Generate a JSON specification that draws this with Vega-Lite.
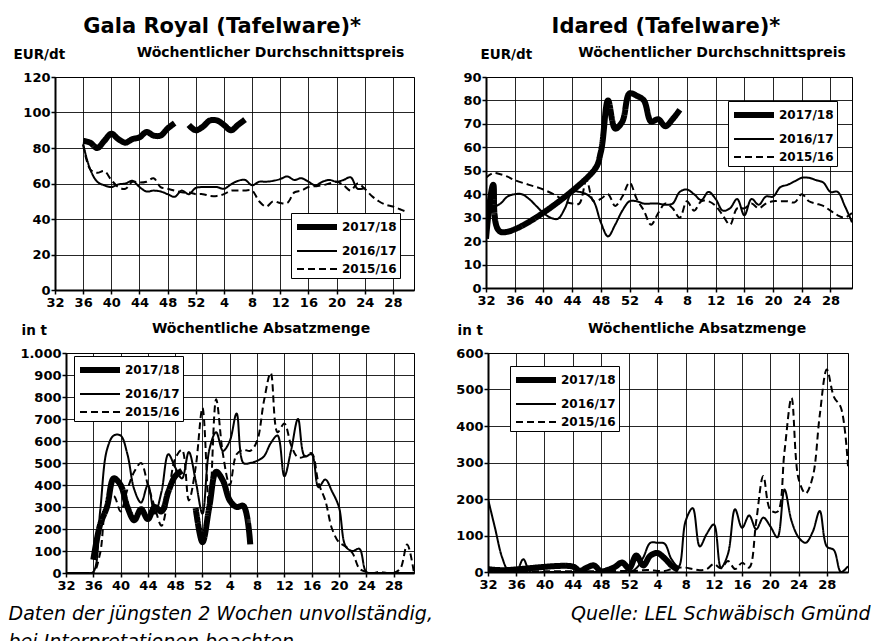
{
  "$schema": "https://vega.github.io/schema/vega-lite/v6.json",
  "padding": {"left": 7, "top": 15, "right": 0, "bottom": 0},
  "config": {
    "font": "DejaVu Sans",
    "view": {"stroke": "#000", "strokeWidth": 1},
    "line": {"color": "#000"},
    "axis": {
      "labelFont": "DejaVu Sans", "labelFontSize": 13, "labelFontWeight": "bold", "labelColor": "#000",
      "domainColor": "#000", "domainWidth": 2, "tickColor": "#000", "tickWidth": 1.5, "tickSize": 4,
      "gridColor": "#000", "gridOpacity": 0.85, "gridWidth": 1,
      "titleFont": "DejaVu Sans", "titleFontSize": 13.5, "titleFontWeight": "bold", "titleColor": "#000",
      "titleAngle": 0, "titleAlign": "left", "titleBaseline": "alphabetic"
    },
    "axisX": {"labelPadding": 2, "labelFlush": false},
    "axisY": {"labelPadding": 1},
    "title": {"font": "DejaVu Sans", "fontWeight": "bold", "color": "#000", "fontSize": 14, "baseline": "alphabetic", "anchor": "middle"},
    "legend": {
      "strokeColor": "#000", "fillColor": "#fff", "padding": 3,
      "symbolType": "M-1,0H4", "symbolSize": 256, "symbolStrokeColor": "#000",
      "labelFont": "DejaVu Sans", "labelFontSize": 12, "labelFontWeight": "bold", "labelColor": "#000",
      "labelOffset": 26, "rowPadding": 3
    }
  },
  "datasets": {
    "gp": [
      {"s":"2015/16","t":4,"v":82},{"s":"2015/16","t":5,"v":68},{"s":"2015/16","t":6,"v":66},{"s":"2015/16","t":7,"v":67},{"s":"2015/16","t":8,"v":62},{"s":"2015/16","t":9,"v":58},{"s":"2015/16","t":10,"v":57},{"s":"2015/16","t":11,"v":61},{"s":"2015/16","t":12,"v":60.5},{"s":"2015/16","t":13,"v":61},{"s":"2015/16","t":14,"v":63},{"s":"2015/16","t":15,"v":58},{"s":"2015/16","t":16,"v":57},{"s":"2015/16","t":17,"v":56},{"s":"2015/16","t":18,"v":55},{"s":"2015/16","t":19,"v":55},{"s":"2015/16","t":20,"v":54},{"s":"2015/16","t":21,"v":54},{"s":"2015/16","t":22,"v":53},{"s":"2015/16","t":23,"v":53},{"s":"2015/16","t":24,"v":54},{"s":"2015/16","t":25,"v":56},{"s":"2015/16","t":26,"v":56},{"s":"2015/16","t":27,"v":56},{"s":"2015/16","t":28,"v":56},{"s":"2015/16","t":29,"v":50},{"s":"2015/16","t":30,"v":47},{"s":"2015/16","t":31,"v":50},{"s":"2015/16","t":32,"v":49},{"s":"2015/16","t":33,"v":49},{"s":"2015/16","t":34,"v":55},{"s":"2015/16","t":35,"v":56},{"s":"2015/16","t":36,"v":58},{"s":"2015/16","t":37,"v":58.5},{"s":"2015/16","t":38,"v":59},{"s":"2015/16","t":39,"v":60},{"s":"2015/16","t":40,"v":61},{"s":"2015/16","t":41,"v":59},{"s":"2015/16","t":42,"v":56},{"s":"2015/16","t":43,"v":60},{"s":"2015/16","t":44,"v":57},{"s":"2015/16","t":45,"v":53},{"s":"2015/16","t":46,"v":50},{"s":"2015/16","t":47,"v":48},{"s":"2015/16","t":48,"v":47},{"s":"2015/16","t":49,"v":45.5},{"s":"2015/16","t":50,"v":44},
      {"s":"2016/17","t":4,"v":82},{"s":"2016/17","t":5,"v":68},{"s":"2016/17","t":6,"v":61},{"s":"2016/17","t":7,"v":59},{"s":"2016/17","t":8,"v":58},{"s":"2016/17","t":9,"v":59.5},{"s":"2016/17","t":10,"v":60},{"s":"2016/17","t":11,"v":61.5},{"s":"2016/17","t":12,"v":58},{"s":"2016/17","t":13,"v":55.5},{"s":"2016/17","t":14,"v":56},{"s":"2016/17","t":15,"v":55.5},{"s":"2016/17","t":16,"v":54},{"s":"2016/17","t":17,"v":52.5},{"s":"2016/17","t":18,"v":56},{"s":"2016/17","t":19,"v":54},{"s":"2016/17","t":20,"v":57.5},{"s":"2016/17","t":21,"v":58},{"s":"2016/17","t":22,"v":58},{"s":"2016/17","t":23,"v":58},{"s":"2016/17","t":24,"v":57},{"s":"2016/17","t":25,"v":59.5},{"s":"2016/17","t":26,"v":61.5},{"s":"2016/17","t":27,"v":62},{"s":"2016/17","t":28,"v":59},{"s":"2016/17","t":29,"v":61},{"s":"2016/17","t":30,"v":61},{"s":"2016/17","t":31,"v":61.5},{"s":"2016/17","t":32,"v":62.5},{"s":"2016/17","t":33,"v":64},{"s":"2016/17","t":34,"v":62},{"s":"2016/17","t":35,"v":63},{"s":"2016/17","t":36,"v":61},{"s":"2016/17","t":37,"v":59},{"s":"2016/17","t":38,"v":61},{"s":"2016/17","t":39,"v":62},{"s":"2016/17","t":40,"v":61},{"s":"2016/17","t":41,"v":62},{"s":"2016/17","t":42,"v":63.5},{"s":"2016/17","t":43,"v":57},{"s":"2016/17","t":44,"v":57.5},
      {"s":"2017/18","t":4,"v":84},{"s":"2017/18","t":5,"v":83},{"s":"2017/18","t":6,"v":80},{"s":"2017/18","t":7,"v":84},{"s":"2017/18","t":8,"v":88},{"s":"2017/18","t":9,"v":85},{"s":"2017/18","t":10,"v":83},{"s":"2017/18","t":11,"v":85},{"s":"2017/18","t":12,"v":86},{"s":"2017/18","t":13,"v":89},{"s":"2017/18","t":14,"v":87},{"s":"2017/18","t":15,"v":87},{"s":"2017/18","t":16,"v":91},{"s":"2017/18","t":17,"v":94},{"s":"2017/18","t":18,"v":null},{"s":"2017/18","t":19,"v":93},{"s":"2017/18","t":20,"v":90},{"s":"2017/18","t":21,"v":92},{"s":"2017/18","t":22,"v":95.5},{"s":"2017/18","t":23,"v":95.5},{"s":"2017/18","t":24,"v":93},{"s":"2017/18","t":25,"v":90},{"s":"2017/18","t":26,"v":93},{"s":"2017/18","t":27,"v":96}
    ],
    "ip": [
      {"s":"2015/16","t":0,"v":47},{"s":"2015/16","t":1,"v":49},{"s":"2015/16","t":2,"v":48.5},{"s":"2015/16","t":3,"v":47.5},{"s":"2015/16","t":4,"v":46},{"s":"2015/16","t":6,"v":44},{"s":"2015/16","t":8,"v":42},{"s":"2015/16","t":10,"v":39},{"s":"2015/16","t":11,"v":37},{"s":"2015/16","t":12,"v":36},{"s":"2015/16","t":13,"v":36},{"s":"2015/16","t":14,"v":46},{"s":"2015/16","t":15,"v":37},{"s":"2015/16","t":16,"v":38},{"s":"2015/16","t":17,"v":40},{"s":"2015/16","t":18,"v":35},{"s":"2015/16","t":19,"v":39},{"s":"2015/16","t":20,"v":45},{"s":"2015/16","t":21,"v":38},{"s":"2015/16","t":22,"v":33},{"s":"2015/16","t":23,"v":27},{"s":"2015/16","t":24,"v":32},{"s":"2015/16","t":25,"v":36},{"s":"2015/16","t":26,"v":34},{"s":"2015/16","t":27,"v":30},{"s":"2015/16","t":28,"v":37},{"s":"2015/16","t":29,"v":33},{"s":"2015/16","t":30,"v":37},{"s":"2015/16","t":31,"v":37},{"s":"2015/16","t":32,"v":35},{"s":"2015/16","t":33,"v":31},{"s":"2015/16","t":34,"v":27},{"s":"2015/16","t":35,"v":34},{"s":"2015/16","t":36,"v":34},{"s":"2015/16","t":37,"v":36},{"s":"2015/16","t":38,"v":34},{"s":"2015/16","t":39,"v":36},{"s":"2015/16","t":40,"v":37},{"s":"2015/16","t":41,"v":37},{"s":"2015/16","t":42,"v":37},{"s":"2015/16","t":43,"v":36.5},{"s":"2015/16","t":44,"v":40},{"s":"2015/16","t":45,"v":37},{"s":"2015/16","t":46,"v":36},{"s":"2015/16","t":47,"v":35},{"s":"2015/16","t":48,"v":33},{"s":"2015/16","t":49,"v":31},{"s":"2015/16","t":50,"v":30},{"s":"2015/16","t":51,"v":32},
      {"s":"2016/17","t":0,"v":34},{"s":"2016/17","t":1,"v":34.5},{"s":"2016/17","t":2,"v":36},{"s":"2016/17","t":3,"v":39},{"s":"2016/17","t":4,"v":40},{"s":"2016/17","t":5,"v":40},{"s":"2016/17","t":6,"v":38},{"s":"2016/17","t":7,"v":35},{"s":"2016/17","t":8,"v":32},{"s":"2016/17","t":9,"v":30},{"s":"2016/17","t":10,"v":29.5},{"s":"2016/17","t":11,"v":34},{"s":"2016/17","t":12,"v":41},{"s":"2016/17","t":13,"v":41},{"s":"2016/17","t":14,"v":40},{"s":"2016/17","t":15,"v":37},{"s":"2016/17","t":16,"v":28},{"s":"2016/17","t":17,"v":22},{"s":"2016/17","t":18,"v":27},{"s":"2016/17","t":19,"v":33},{"s":"2016/17","t":20,"v":37},{"s":"2016/17","t":21,"v":37},{"s":"2016/17","t":22,"v":36},{"s":"2016/17","t":23,"v":36},{"s":"2016/17","t":24,"v":36},{"s":"2016/17","t":25,"v":35.5},{"s":"2016/17","t":26,"v":36},{"s":"2016/17","t":27,"v":41},{"s":"2016/17","t":28,"v":42},{"s":"2016/17","t":29,"v":40},{"s":"2016/17","t":30,"v":37.5},{"s":"2016/17","t":31,"v":41},{"s":"2016/17","t":32,"v":38},{"s":"2016/17","t":33,"v":33},{"s":"2016/17","t":34,"v":34},{"s":"2016/17","t":35,"v":38},{"s":"2016/17","t":36,"v":31},{"s":"2016/17","t":37,"v":38},{"s":"2016/17","t":38,"v":35.5},{"s":"2016/17","t":39,"v":39},{"s":"2016/17","t":40,"v":39},{"s":"2016/17","t":41,"v":43},{"s":"2016/17","t":42,"v":44},{"s":"2016/17","t":43,"v":45.5},{"s":"2016/17","t":44,"v":47},{"s":"2016/17","t":45,"v":47},{"s":"2016/17","t":46,"v":46},{"s":"2016/17","t":47,"v":45},{"s":"2016/17","t":48,"v":41},{"s":"2016/17","t":49,"v":41},{"s":"2016/17","t":50,"v":35},{"s":"2016/17","t":51,"v":28},
      {"s":"2017/18","t":0,"v":21},{"s":"2017/18","t":1,"v":44},{"s":"2017/18","t":2,"v":24},{"s":"2017/18","t":15,"v":50},{"s":"2017/18","t":16,"v":58},{"s":"2017/18","t":17,"v":80},{"s":"2017/18","t":18,"v":68},{"s":"2017/18","t":19,"v":71},{"s":"2017/18","t":20,"v":83},{"s":"2017/18","t":21,"v":82},{"s":"2017/18","t":22,"v":80},{"s":"2017/18","t":23,"v":71},{"s":"2017/18","t":24,"v":72},{"s":"2017/18","t":25,"v":69},{"s":"2017/18","t":26,"v":72},{"s":"2017/18","t":27,"v":76}
    ],
    "gv": [
      {"s":"2015/16","t":0,"v":0},{"s":"2015/16","t":1,"v":0},{"s":"2015/16","t":2,"v":0},{"s":"2015/16","t":3,"v":0},{"s":"2015/16","t":4,"v":0},{"s":"2015/16","t":5,"v":90},{"s":"2015/16","t":6,"v":320},{"s":"2015/16","t":7,"v":350},{"s":"2015/16","t":8,"v":280},{"s":"2015/16","t":9,"v":380},{"s":"2015/16","t":10,"v":460},{"s":"2015/16","t":11,"v":500},{"s":"2015/16","t":12,"v":400},{"s":"2015/16","t":13,"v":300},{"s":"2015/16","t":14,"v":215},{"s":"2015/16","t":15,"v":350},{"s":"2015/16","t":16,"v":520},{"s":"2015/16","t":17,"v":560},{"s":"2015/16","t":18,"v":330},{"s":"2015/16","t":19,"v":480},{"s":"2015/16","t":20,"v":750},{"s":"2015/16","t":21,"v":290},{"s":"2015/16","t":22,"v":790},{"s":"2015/16","t":23,"v":540},{"s":"2015/16","t":24,"v":400},{"s":"2015/16","t":25,"v":540},{"s":"2015/16","t":26,"v":560},{"s":"2015/16","t":27,"v":555},{"s":"2015/16","t":28,"v":600},{"s":"2015/16","t":29,"v":780},{"s":"2015/16","t":30,"v":910},{"s":"2015/16","t":31,"v":640},{"s":"2015/16","t":32,"v":680},{"s":"2015/16","t":33,"v":580},{"s":"2015/16","t":34,"v":525},{"s":"2015/16","t":35,"v":530},{"s":"2015/16","t":36,"v":545},{"s":"2015/16","t":37,"v":410},{"s":"2015/16","t":38,"v":330},{"s":"2015/16","t":39,"v":200},{"s":"2015/16","t":40,"v":140},{"s":"2015/16","t":41,"v":120},{"s":"2015/16","t":42,"v":90},{"s":"2015/16","t":43,"v":20},{"s":"2015/16","t":44,"v":5},{"s":"2015/16","t":45,"v":0},{"s":"2015/16","t":46,"v":5},{"s":"2015/16","t":47,"v":0},{"s":"2015/16","t":48,"v":0},{"s":"2015/16","t":49,"v":20},{"s":"2015/16","t":50,"v":130},{"s":"2015/16","t":51,"v":0},
      {"s":"2016/17","t":0,"v":0},{"s":"2016/17","t":1,"v":0},{"s":"2016/17","t":2,"v":0},{"s":"2016/17","t":3,"v":0},{"s":"2016/17","t":4,"v":5},{"s":"2016/17","t":5,"v":280},{"s":"2016/17","t":6,"v":560},{"s":"2016/17","t":7,"v":625},{"s":"2016/17","t":8,"v":625},{"s":"2016/17","t":9,"v":540},{"s":"2016/17","t":10,"v":380},{"s":"2016/17","t":11,"v":320},{"s":"2016/17","t":12,"v":400},{"s":"2016/17","t":13,"v":270},{"s":"2016/17","t":14,"v":370},{"s":"2016/17","t":15,"v":540},{"s":"2016/17","t":16,"v":480},{"s":"2016/17","t":17,"v":430},{"s":"2016/17","t":18,"v":550},{"s":"2016/17","t":19,"v":420},{"s":"2016/17","t":20,"v":270},{"s":"2016/17","t":21,"v":560},{"s":"2016/17","t":22,"v":640},{"s":"2016/17","t":23,"v":555},{"s":"2016/17","t":24,"v":600},{"s":"2016/17","t":25,"v":725},{"s":"2016/17","t":26,"v":500},{"s":"2016/17","t":27,"v":500},{"s":"2016/17","t":28,"v":510},{"s":"2016/17","t":29,"v":530},{"s":"2016/17","t":30,"v":590},{"s":"2016/17","t":31,"v":625},{"s":"2016/17","t":32,"v":440},{"s":"2016/17","t":33,"v":560},{"s":"2016/17","t":34,"v":700},{"s":"2016/17","t":35,"v":530},{"s":"2016/17","t":36,"v":540},{"s":"2016/17","t":37,"v":390},{"s":"2016/17","t":38,"v":425},{"s":"2016/17","t":39,"v":370},{"s":"2016/17","t":40,"v":300},{"s":"2016/17","t":41,"v":120},{"s":"2016/17","t":42,"v":100},{"s":"2016/17","t":43,"v":110},{"s":"2016/17","t":44,"v":5},{"s":"2016/17","t":45,"v":0},{"s":"2016/17","t":46,"v":0},{"s":"2016/17","t":48,"v":0},{"s":"2016/17","t":51,"v":0},
      {"s":"2017/18","t":4,"v":60},{"s":"2017/18","t":5,"v":220},{"s":"2017/18","t":6,"v":300},{"s":"2017/18","t":7,"v":430},{"s":"2017/18","t":8,"v":400},{"s":"2017/18","t":9,"v":300},{"s":"2017/18","t":10,"v":240},{"s":"2017/18","t":11,"v":290},{"s":"2017/18","t":12,"v":245},{"s":"2017/18","t":13,"v":300},{"s":"2017/18","t":14,"v":280},{"s":"2017/18","t":15,"v":370},{"s":"2017/18","t":16,"v":440},{"s":"2017/18","t":17,"v":465},{"s":"2017/18","t":18,"v":null},{"s":"2017/18","t":19,"v":295},{"s":"2017/18","t":20,"v":140},{"s":"2017/18","t":21,"v":300},{"s":"2017/18","t":22,"v":460},{"s":"2017/18","t":23,"v":420},{"s":"2017/18","t":24,"v":330},{"s":"2017/18","t":25,"v":300},{"s":"2017/18","t":26,"v":305},{"s":"2017/18","t":27,"v":130}
    ],
    "iv": [
      {"s":"2015/16","t":0,"v":5},{"s":"2015/16","t":4,"v":3},{"s":"2015/16","t":8,"v":2},{"s":"2015/16","t":12,"v":2},{"s":"2015/16","t":16,"v":2},{"s":"2015/16","t":20,"v":3},{"s":"2015/16","t":21,"v":3},{"s":"2015/16","t":22,"v":5},{"s":"2015/16","t":23,"v":5},{"s":"2015/16","t":24,"v":3},{"s":"2015/16","t":25,"v":3},{"s":"2015/16","t":26,"v":8},{"s":"2015/16","t":27,"v":12},{"s":"2015/16","t":28,"v":12},{"s":"2015/16","t":29,"v":8},{"s":"2015/16","t":30,"v":5},{"s":"2015/16","t":31,"v":8},{"s":"2015/16","t":32,"v":22},{"s":"2015/16","t":33,"v":10},{"s":"2015/16","t":34,"v":30},{"s":"2015/16","t":35,"v":8},{"s":"2015/16","t":36,"v":25},{"s":"2015/16","t":37,"v":12},{"s":"2015/16","t":38,"v":140},{"s":"2015/16","t":39,"v":263},{"s":"2015/16","t":40,"v":170},{"s":"2015/16","t":41,"v":165},{"s":"2015/16","t":42,"v":330},{"s":"2015/16","t":43,"v":477},{"s":"2015/16","t":44,"v":255},{"s":"2015/16","t":45,"v":215},{"s":"2015/16","t":46,"v":260},{"s":"2015/16","t":47,"v":430},{"s":"2015/16","t":48,"v":555},{"s":"2015/16","t":49,"v":480},{"s":"2015/16","t":50,"v":450},{"s":"2015/16","t":51,"v":290},
      {"s":"2016/17","t":0,"v":200},{"s":"2016/17","t":1,"v":120},{"s":"2016/17","t":2,"v":40},{"s":"2016/17","t":3,"v":0},{"s":"2016/17","t":4,"v":0},{"s":"2016/17","t":5,"v":35},{"s":"2016/17","t":6,"v":0},{"s":"2016/17","t":8,"v":0},{"s":"2016/17","t":12,"v":0},{"s":"2016/17","t":16,"v":0},{"s":"2016/17","t":20,"v":0},{"s":"2016/17","t":21,"v":10},{"s":"2016/17","t":22,"v":40},{"s":"2016/17","t":23,"v":80},{"s":"2016/17","t":24,"v":80},{"s":"2016/17","t":25,"v":78},{"s":"2016/17","t":26,"v":35},{"s":"2016/17","t":27,"v":15},{"s":"2016/17","t":28,"v":140},{"s":"2016/17","t":29,"v":175},{"s":"2016/17","t":30,"v":70},{"s":"2016/17","t":31,"v":105},{"s":"2016/17","t":32,"v":130},{"s":"2016/17","t":33,"v":12},{"s":"2016/17","t":34,"v":50},{"s":"2016/17","t":35,"v":172},{"s":"2016/17","t":36,"v":121},{"s":"2016/17","t":37,"v":155},{"s":"2016/17","t":38,"v":117},{"s":"2016/17","t":39,"v":149},{"s":"2016/17","t":40,"v":125},{"s":"2016/17","t":41,"v":95},{"s":"2016/17","t":42,"v":226},{"s":"2016/17","t":43,"v":140},{"s":"2016/17","t":44,"v":95},{"s":"2016/17","t":45,"v":80},{"s":"2016/17","t":46,"v":110},{"s":"2016/17","t":47,"v":167},{"s":"2016/17","t":48,"v":70},{"s":"2016/17","t":49,"v":60},{"s":"2016/17","t":50,"v":0},{"s":"2016/17","t":51,"v":16},
      {"s":"2017/18","t":0,"v":8},{"s":"2017/18","t":2,"v":5},{"s":"2017/18","t":12,"v":15},{"s":"2017/18","t":13,"v":3},{"s":"2017/18","t":14,"v":12},{"s":"2017/18","t":15,"v":18},{"s":"2017/18","t":16,"v":2},{"s":"2017/18","t":17,"v":6},{"s":"2017/18","t":18,"v":14},{"s":"2017/18","t":19,"v":26},{"s":"2017/18","t":20,"v":10},{"s":"2017/18","t":21,"v":45},{"s":"2017/18","t":22,"v":18},{"s":"2017/18","t":23,"v":45},{"s":"2017/18","t":24,"v":52},{"s":"2017/18","t":25,"v":38},{"s":"2017/18","t":26,"v":18},{"s":"2017/18","t":27,"v":5}
    ]
  },
  "hconcat": [
    {
      "title": {"text": "Gala Royal (Tafelware)*", "fontSize": 21, "dx": 2, "offset": 9, "frame": "bounds"},
      "spacing": 63,
      "bounds": "flush",
      "resolve": {"scale": {"strokeWidth": "independent", "strokeDash": "independent"}, "legend": {"strokeWidth": "independent", "strokeDash": "independent"}},
      "vconcat": [
        {
          "width": 359, "height": 213,
          "data": {"name": "gp"},
          "title": {"text": "Wöchentlicher Durchschnittspreis", "dx": 36, "offset": -13, "frame": "group"},
          "mark": {"type": "line", "interpolate": "catmull-rom", "color": "#000", "clip": true, "invalid": "break-paths-show-domains"},
          "encoding": {
            "x": {"field": "t", "type": "quantitative", "scale": {"domain": [0, 51], "nice": false, "zero": false}, "axis": {"values": [0,4,8,12,16,20,24,28,32,36,40,44,48], "labelExpr": "datum.value <= 20 ? datum.value + 32 : datum.value - 20", "title": null}},
            "y": {"field": "v", "type": "quantitative", "scale": {"domain": [0, 120], "nice": false}, "axis": {"values": [0,20,40,60,80,100,120], "title": "EUR/dt", "titleX": -42, "titleY": -19}},
            "strokeWidth": {"field": "s", "type": "nominal", "scale": {"type": "ordinal", "domain": ["2017/18","2016/17","2015/16"], "range": [6,2,2]}, "legend": {"title": null, "orient": "none", "legendX": 236, "legendY": 136}},
            "strokeDash": {"field": "s", "type": "nominal", "scale": {"domain": ["2017/18","2016/17","2015/16"], "range": [[1,0],[1,0],[7,4]]}, "legend": {"title": null, "orient": "none", "legendX": 236, "legendY": 136}}
          }
        },
        {
          "spacing": 0,
          "bounds": "flush",
          "resolve": {"scale": {"strokeWidth": "independent", "strokeDash": "independent"}, "legend": {"strokeWidth": "independent", "strokeDash": "independent"}},
          "hconcat": [
            {"width": 11, "height": 10, "view": {"stroke": null}, "data": {"values": [{"a": 0}]}, "mark": {"type": "point", "opacity": 0}, "encoding": {}},
            {
              "width": 348, "height": 220,
              "data": {"name": "gv"},
              "title": {"text": "Wöchentliche Absatzmenge", "dx": 21, "offset": -13, "frame": "group"},
              "mark": {"type": "line", "interpolate": "catmull-rom", "color": "#000", "clip": true, "invalid": "break-paths-show-domains"},
              "encoding": {
                "x": {"field": "t", "type": "quantitative", "scale": {"domain": [0, 51], "nice": false, "zero": false}, "axis": {"values": [0,4,8,12,16,20,24,28,32,36,40,44,48], "labelExpr": "datum.value <= 20 ? datum.value + 32 : datum.value - 20", "title": ["Daten der jüngsten 2 Wochen unvollständig,", "\u00a0\u00a0bei Interpretationen beachten"], "titleFontStyle": "italic", "titleFontWeight": "normal", "titleFontSize": 19, "titleX": -58, "titleY": 46, "titleLineHeight": 28}},
                "y": {"field": "v", "type": "quantitative", "scale": {"domain": [0, 1000], "nice": false}, "axis": {"values": [0,100,200,300,400,500,600,700,800,900,1000], "labelExpr": "datum.value == 1000 ? '1.000' : datum.label", "title": "in t", "titleX": -45, "titleY": -19}},
                "strokeWidth": {"field": "s", "type": "nominal", "scale": {"type": "ordinal", "domain": ["2017/18","2016/17","2015/16"], "range": [6,2,2]}, "legend": {"title": null, "orient": "none", "legendX": 8, "legendY": 3}},
                "strokeDash": {"field": "s", "type": "nominal", "scale": {"domain": ["2017/18","2016/17","2015/16"], "range": [[1,0],[1,0],[7,4]]}, "legend": {"title": null, "orient": "none", "legendX": 8, "legendY": 3}}
              }
            }
          ]
        }
      ]
    },
    {
      "title": {"text": "Idared (Tafelware)*", "fontSize": 21, "dx": 3, "offset": 9, "frame": "bounds"},
      "spacing": 65,
      "bounds": "flush",
      "resolve": {"scale": {"strokeWidth": "independent", "strokeDash": "independent"}, "legend": {"strokeWidth": "independent", "strokeDash": "independent"}},
      "vconcat": [
        {
          "width": 366, "height": 211,
          "data": {"name": "ip"},
          "title": {"text": "Wöchentlicher Durchschnittspreis", "dx": 43, "offset": -13, "frame": "group"},
          "mark": {"type": "line", "interpolate": "catmull-rom", "color": "#000", "clip": true, "invalid": "break-paths-show-domains"},
          "encoding": {
            "x": {"field": "t", "type": "quantitative", "scale": {"domain": [0, 51], "nice": false, "zero": false}, "axis": {"values": [0,4,8,12,16,20,24,28,32,36,40,44,48], "labelExpr": "datum.value <= 20 ? datum.value + 32 : datum.value - 20", "title": null}},
            "y": {"field": "v", "type": "quantitative", "scale": {"domain": [0, 90], "nice": false}, "axis": {"values": [0,10,20,30,40,50,60,70,80,90], "title": "EUR/dt", "titleX": -6, "titleY": -19}},
            "strokeWidth": {"field": "s", "type": "nominal", "scale": {"type": "ordinal", "domain": ["2017/18","2016/17","2015/16"], "range": [6,2,2]}, "legend": {"title": null, "orient": "none", "legendX": 242, "legendY": 24}},
            "strokeDash": {"field": "s", "type": "nominal", "scale": {"domain": ["2017/18","2016/17","2015/16"], "range": [[1,0],[1,0],[7,4]]}, "legend": {"title": null, "orient": "none", "legendX": 242, "legendY": 24}}
          }
        },
        {
          "spacing": 0,
          "bounds": "flush",
          "resolve": {"scale": {"strokeWidth": "independent", "strokeDash": "independent"}, "legend": {"strokeWidth": "independent", "strokeDash": "independent"}},
          "hconcat": [
            {"width": 2, "height": 10, "view": {"stroke": null}, "data": {"values": [{"a": 0}]}, "mark": {"type": "point", "opacity": 0}, "encoding": {}},
            {
              "width": 360, "height": 219,
              "data": {"name": "iv"},
              "title": {"text": "Wöchentliche Absatzmenge", "dx": 29, "offset": -13, "frame": "group"},
              "mark": {"type": "line", "interpolate": "catmull-rom", "color": "#000", "clip": true, "invalid": "break-paths-show-domains"},
              "encoding": {
                "x": {"field": "t", "type": "quantitative", "scale": {"domain": [0, 51], "nice": false, "zero": false}, "axis": {"values": [0,4,8,12,16,20,24,28,32,36,40,44,48], "labelExpr": "datum.value <= 20 ? datum.value + 32 : datum.value - 20", "title": "Quelle: LEL Schwäbisch Gmünd", "titleFontStyle": "italic", "titleFontWeight": "normal", "titleFontSize": 19, "titleAlign": "right", "titleX": 382, "titleY": 47}},
                "y": {"field": "v", "type": "quantitative", "scale": {"domain": [0, 600], "nice": false}, "axis": {"values": [0,100,200,300,400,500,600], "title": "in t", "titleX": -31, "titleY": -19}},
                "strokeWidth": {"field": "s", "type": "nominal", "scale": {"type": "ordinal", "domain": ["2017/18","2016/17","2015/16"], "range": [6,2,2]}, "legend": {"title": null, "orient": "none", "legendX": 22, "legendY": 13}},
                "strokeDash": {"field": "s", "type": "nominal", "scale": {"domain": ["2017/18","2016/17","2015/16"], "range": [[1,0],[1,0],[7,4]]}, "legend": {"title": null, "orient": "none", "legendX": 22, "legendY": 13}}
              }
            }
          ]
        }
      ]
    }
  ],
  "spacing": 22,
  "bounds": "full",
  "resolve": {"scale": {"strokeWidth": "independent", "strokeDash": "independent"}, "legend": {"strokeWidth": "independent", "strokeDash": "independent"}}
}
